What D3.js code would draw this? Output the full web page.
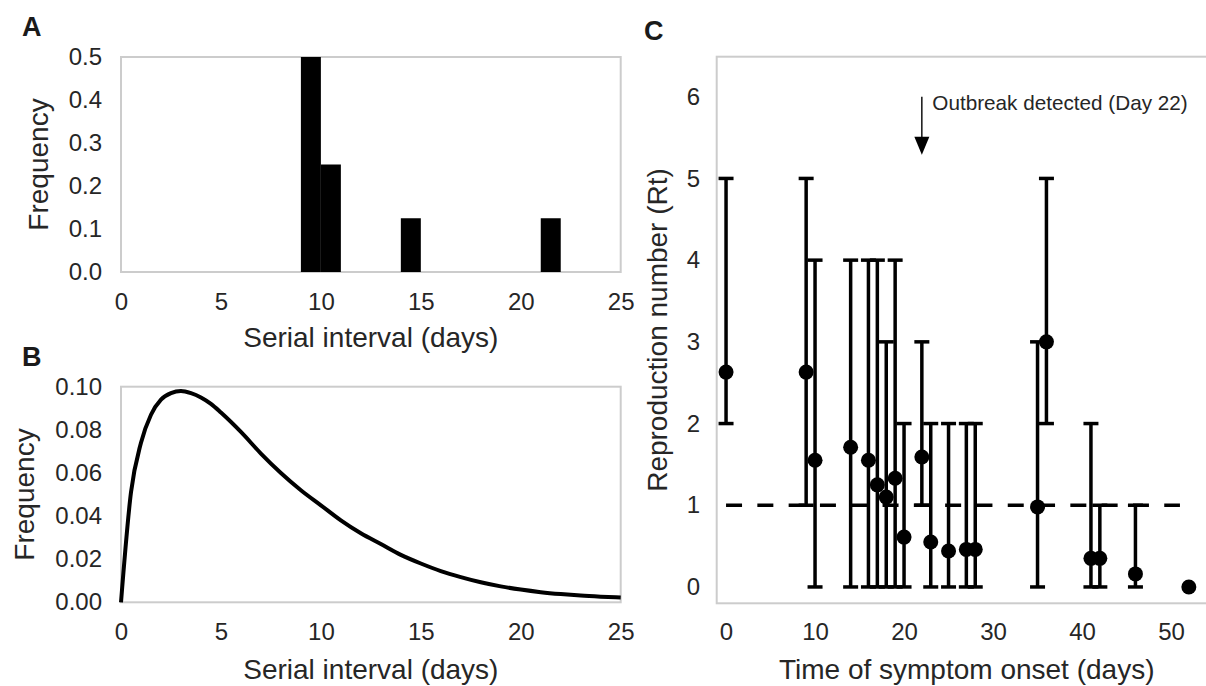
<!DOCTYPE html>
<html>
<head>
<meta charset="utf-8">
<script src="https://cdn.jsdelivr.net/npm/d3@7"></script>
<style>
  html, body { margin: 0; padding: 0; background: #fff; }
  svg { display: block; }
</style>
</head>
<body>
<script>
// ---------------- DATA ----------------
// Panel A: histogram of observed serial intervals (bin start day, frequency)
const histBinStart = [9, 10, 14, 21];
const histFreq = [0.5, 0.25, 0.125, 0.125];
const histBinWidth = 1;
const axisATicksX = [0, 5, 10, 15, 20, 25];
const axisATicksY = [0.0, 0.1, 0.2, 0.3, 0.4, 0.5];

// Panel B: fitted serial interval distribution
const siDays = [0, 0.5, 1, 1.5, 2, 2.5, 3, 3.5, 4, 4.5, 5, 6, 7, 8, 9, 10, 11, 12, 13, 14, 15, 16, 17, 18, 19, 20, 21, 22, 23, 24, 25];
const siFreq = [0.000, 0.051, 0.074, 0.087, 0.094, 0.097, 0.098, 0.097, 0.095, 0.092, 0.088, 0.079, 0.069, 0.060, 0.052, 0.045, 0.038, 0.032, 0.027, 0.022, 0.018, 0.0145, 0.0117, 0.0093, 0.0074, 0.0059, 0.0047, 0.0038, 0.0031, 0.0026, 0.0022];
const axisBTicksX = [0, 5, 10, 15, 20, 25];
const axisBTicksY = [0.00, 0.02, 0.04, 0.06, 0.08, 0.10];

// Panel C: reproduction number over time
const rtDays  = [0, 9, 10, 14, 16, 17, 18, 19, 20, 22, 23, 25, 27, 28, 35, 36, 41, 42, 46, 52];
const rtMean  = [2.63, 2.63, 1.55, 1.71, 1.55, 1.25, 1.10, 1.33, 0.61, 1.59, 0.55, 0.44, 0.46, 0.46, 0.98, 3.00, 0.35, 0.35, 0.16, 0.00];
const rtLower = [2, 1, 0, 0, 0, 0, 0, 0, 0, 1, 0, 0, 0, 0, 0, 2, 0, 0, 0, 0];
const rtUpper = [5, 5, 4, 4, 4, 4, 3, 4, 2, 3, 2, 2, 2, 2, 3, 5, 2, 1, 1, 0];
const thresholdR = 1;
const thresholdSpan = [0, 51];
const outbreakDay = 22;
const outbreakLabel = "Outbreak detected (Day 22)";
const axisCTicksX = [0, 10, 20, 30, 40, 50];
const axisCTicksY = [0, 1, 2, 3, 4, 5, 6];

// ---------------- DRAW ----------------
const FONT = "'Liberation Sans', Arial, Helvetica, sans-serif";
const TXT = "#262626";
const FRAME = "#cccccc";
const W = 1206, H = 686;

const svg = d3.select("body").append("svg")
  .attr("width", W).attr("height", H)
  .attr("font-family", FONT);
svg.append("rect").attr("width", W).attr("height", H).attr("fill", "#fff");

function frame(x, y) {
  const [x0, x1] = x.range();
  const [y0, y1] = y.range();
  svg.append("rect")
    .attr("x", Math.min(x0, x1)).attr("y", Math.min(y0, y1))
    .attr("width", Math.abs(x1 - x0)).attr("height", Math.abs(y1 - y0))
    .attr("fill", "none").attr("stroke", FRAME).attr("stroke-width", 2);
}

function styleAxis(g, size) {
  g.attr("font-size", size).attr("font-family", FONT);
  g.select(".domain").remove();
  g.selectAll(".tick line").remove();
  g.selectAll("text").attr("fill", TXT);
}

function xLabelAt(cx, text, yBase) {
  svg.append("text").attr("x", cx).attr("y", yBase)
    .attr("text-anchor", "middle").attr("font-size", 28).attr("fill", TXT).text(text);
}
function yLabel(y, text, xBase) {
  const [a, b] = y.range();
  const cy = (a + b) / 2;
  svg.append("text").attr("transform", `translate(${xBase},${cy}) rotate(-90)`)
    .attr("text-anchor", "middle").attr("font-size", 28).attr("fill", TXT).text(text);
}
function panelLetter(t, x, y) {
  svg.append("text").attr("x", x).attr("y", y).attr("font-size", 27)
    .attr("font-weight", "bold").attr("fill", "#1a1a1a").text(t);
}

// ---- Panel A ----
const xA = d3.scaleLinear().domain([0, 25]).range([121, 620.7]);
const yA = d3.scaleLinear().domain([0, 0.5]).range([272, 57]);
frame(xA, yA);
svg.append("g").selectAll("rect").data(histBinStart).join("rect")
  .attr("x", d => xA(d))
  .attr("width", d => xA(d + histBinWidth) - xA(d))
  .attr("y", (d, i) => yA(histFreq[i]))
  .attr("height", (d, i) => yA(0) - yA(histFreq[i]))
  .attr("fill", "#000");
svg.append("g").attr("transform", `translate(0,${yA(0)})`)
  .call(d3.axisBottom(xA).tickValues(axisATicksX).tickSize(0).tickPadding(21))
  .call(g => styleAxis(g, 24));
svg.append("g").attr("transform", `translate(${xA(0)},0)`)
  .call(d3.axisLeft(yA).tickValues(axisATicksY).tickFormat(d3.format(".1f")).tickSize(0).tickPadding(19))
  .call(g => styleAxis(g, 24));
xLabelAt((xA.range()[0] + xA.range()[1]) / 2, "Serial interval (days)", 347);
yLabel(yA, "Frequency", 48);
panelLetter("A", 22, 36);

// ---- Panel B ----
const xB = d3.scaleLinear().domain([0, 25]).range([121, 620.7]);
const yB = d3.scaleLinear().domain([0, 0.1]).range([602.3, 386.7]);
frame(xB, yB);
const lineB = d3.line().x((d, i) => xB(siDays[i])).y(d => yB(d)).curve(d3.curveMonotoneX);
svg.append("path").datum(siFreq).attr("d", lineB)
  .attr("fill", "none").attr("stroke", "#000").attr("stroke-width", 4)
  .attr("stroke-linejoin", "round");
svg.append("g").attr("transform", `translate(0,${yB(0)})`)
  .call(d3.axisBottom(xB).tickValues(axisBTicksX).tickSize(0).tickPadding(21))
  .call(g => styleAxis(g, 24));
svg.append("g").attr("transform", `translate(${xB(0)},0)`)
  .call(d3.axisLeft(yB).tickValues(axisBTicksY).tickFormat(d3.format(".2f")).tickSize(0).tickPadding(19))
  .call(g => styleAxis(g, 24));
xLabelAt((xB.range()[0] + xB.range()[1]) / 2, "Serial interval (days)", 679);
yLabel(yB, "Frequency", 34);
panelLetter("B", 22, 366);

// ---- Panel C ----
const xC = d3.scaleLinear().domain([-1.05, 55]).range([716.7, 716.7 + 56.05 * 8.9]);
const yC = d3.scaleLinear().domain([-0.2, 6.49]).range([603.3, 56.7]);
frame(xC, yC);

// threshold dashed line
svg.append("line")
  .attr("x1", xC(thresholdSpan[0])).attr("x2", xC(thresholdSpan[1]))
  .attr("y1", yC(thresholdR)).attr("y2", yC(thresholdR))
  .attr("stroke", "#000").attr("stroke-width", 3.5).attr("stroke-dasharray", "16 15.3");

// error bars
const cap = 7.5;
const eb = svg.append("g").attr("stroke", "#000").attr("stroke-width", 3.5);
rtDays.forEach((d, i) => {
  if (rtUpper[i] === rtLower[i]) return;
  const x = xC(d);
  eb.append("line").attr("x1", x).attr("x2", x).attr("y1", yC(rtLower[i])).attr("y2", yC(rtUpper[i]));
  eb.append("line").attr("x1", x - cap).attr("x2", x + cap).attr("y1", yC(rtLower[i])).attr("y2", yC(rtLower[i]));
  eb.append("line").attr("x1", x - cap).attr("x2", x + cap).attr("y1", yC(rtUpper[i])).attr("y2", yC(rtUpper[i]));
});
svg.append("g").selectAll("circle").data(rtDays).join("circle")
  .attr("cx", d => xC(d)).attr("cy", (d, i) => yC(rtMean[i])).attr("r", 7.5).attr("fill", "#000");

// outbreak annotation
const ax = xC(outbreakDay);
svg.append("line").attr("x1", ax).attr("x2", ax).attr("y1", yC(6.0)).attr("y2", yC(5.45))
  .attr("stroke", "#000").attr("stroke-width", 1.4);
svg.append("path")
  .attr("d", `M${ax - 7.5},${yC(5.51)} L${ax + 7.5},${yC(5.51)} L${ax},${yC(5.29)} Z`)
  .attr("fill", "#000");
svg.append("text").attr("x", ax + 10.5).attr("y", yC(5.84))
  .attr("font-size", 20.7).attr("fill", TXT).text(outbreakLabel);

svg.append("g").attr("transform", `translate(0,${yC.range()[0]})`)
  .call(d3.axisBottom(xC).tickValues(axisCTicksX).tickSize(0).tickPadding(20))
  .call(g => styleAxis(g, 24));
svg.append("g").attr("transform", `translate(${xC.range()[0]},0)`)
  .call(d3.axisLeft(yC).tickValues(axisCTicksY).tickFormat(d3.format("d")).tickSize(0).tickPadding(16.7))
  .call(g => styleAxis(g, 24));
xLabelAt(966.7, "Time of symptom onset (days)", 679);
yLabel(yC, "Reproduction number (Rt)", 667);
panelLetter("C", 644, 40);
</script>
</body>
</html>
